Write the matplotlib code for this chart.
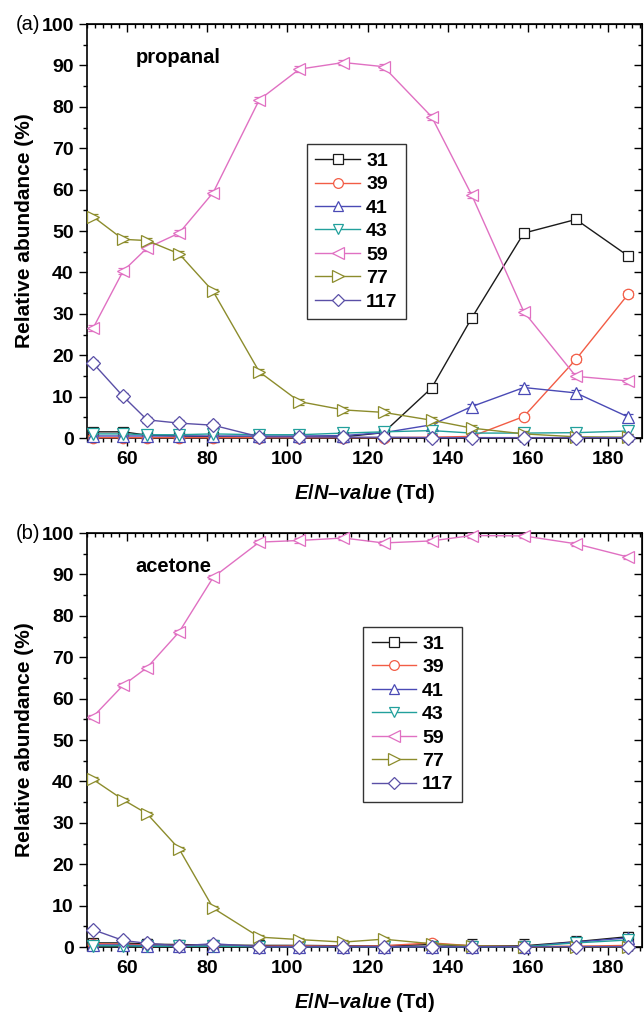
import matplotlib
matplotlib.use("Agg")
import matplotlib.pyplot as plt
from matplotlib.lines import Line2D
from matplotlib.ticker import MultipleLocator

plt.rcParams['font.family'] = ['Liberation Sans', 'DejaVu Sans']
plt.rcParams['mathtext.fontset'] = 'custom'
plt.rcParams['mathtext.it'] = 'Liberation Sans:bold:italic'
plt.rcParams['mathtext.bf'] = 'Liberation Sans:bold'
plt.rcParams['mathtext.rm'] = 'Liberation Sans:bold'

# E/N values (Td)
en = [51.5, 59, 65, 73, 81.5, 93, 103, 114, 124, 136, 146, 159, 172, 185]
masses = ['31', '39', '41', '43', '59', '77', '117']

# (a) propanal
a31 = [1.5, 1.5, 0.7, 0.5, 0.3, 0.2, 0.2, 0.3, 1.3, 12.1, 29.0, 49.5, 52.8, 44.0]
a39 = [0.1, 0.1, 0.1, 0.1, 0.1, 0.1, 0.1, 0.1, 0.1, 0.2, 0.4, 5.2, 19.0, 34.7]
a41 = [0.5, 0.5, 0.5, 0.5, 0.5, 0.5, 0.5, 0.6, 1.3, 3.2, 7.6, 12.2, 10.9, 5.1]
a43 = [1.0, 1.0, 0.8, 0.8, 1.0, 0.8, 0.8, 1.2, 1.5, 1.8, 1.2, 1.2, 1.3, 1.7]
a59 = [26.5, 40.3, 45.9, 49.5, 59.3, 81.7, 89.1, 90.7, 89.7, 77.6, 58.7, 30.5, 14.9, 13.8]
a77 = [53.5, 48.0, 47.7, 44.5, 35.4, 16.0, 8.8, 6.8, 6.2, 4.3, 2.4, 1.0, 0.3, 0.2]
a117 = [18.1, 10.1, 4.4, 3.6, 3.1, 0.3, 0.3, 0.2, 0.2, 0.1, 0.1, 0.1, 0.1, 0.1]
a_err = 0.7

# (b) acetone
b31 = [1.0, 1.0, 0.7, 0.6, 0.5, 0.4, 0.4, 0.3, 0.3, 0.6, 0.3, 0.3, 1.3, 2.5]
b31_err = [0.8, 1.1, 1.3, 0.8, 0.7, 0.9, 0.8, 0.5, 0.5, 0.8, 1.6, 1.6, 1.4, 1.2]
b39 = [0.8, 0.7, 0.5, 0.4, 0.3, 0.2, 0.3, 0.2, 0.3, 1.0, 0.3, 0.1, 0.2, 0.4]
b41 = [0.5, 0.5, 0.3, 0.2, 0.3, 0.1, 0.1, 0.1, 0.1, 0.1, 0.1, 0.1, 1.2, 2.2]
b43 = [0.3, 0.3, 0.2, 0.2, 0.2, 0.1, 0.1, 0.1, 0.1, 0.1, 0.1, 0.1, 1.0, 1.7]
b59 = [55.6, 63.2, 67.5, 76.1, 89.3, 97.8, 98.2, 98.8, 97.6, 98.1, 99.4, 99.3, 97.4, 94.2]
b77 = [40.5, 35.6, 32.2, 23.7, 9.4, 2.4, 1.8, 1.2, 1.9, 0.8, 0.3, 0.1, 0.1, 0.1]
b117 = [4.2, 1.6, 0.9, 0.3, 0.8, 0.1, 0.1, 0.1, 0.1, 0.1, 0.1, 0.1, 0.1, 0.1]
b_err = 0.5

colors = ['#1a1a1a', '#f25c45', '#4a4ab5', '#22a09c', '#e070c2', '#8c8c2c', '#5a4fa6']
markers = ['s', 'o', '^', 'v', '<', '>', 'D']
msizes = [7, 7.5, 8, 8, 8.5, 8.5, 7]


def draw_panel(ax, series, errs, name, tag, leg_anchor):
    handles = []
    for i, (ys, er) in enumerate(zip(series, errs)):
        ax.errorbar(en, ys, yerr=er, color=colors[i], marker=markers[i],
                    markersize=msizes[i], markerfacecolor='white', markeredgewidth=0.9,
                    linewidth=1.0, elinewidth=0.9, capsize=3.5, capthick=1.0,
                    clip_on=False, zorder=3 + i * 0.1)
        handles.append(Line2D([], [], color=colors[i], marker=markers[i],
                              markersize=msizes[i] - 0.5, markerfacecolor='white',
                              markeredgewidth=0.9, linewidth=1.0, label=masses[i]))
    ax.set_xlim(50, 188.5)
    ax.set_ylim(0, 100)
    ax.xaxis.set_major_locator(MultipleLocator(20))
    ax.xaxis.set_minor_locator(MultipleLocator(2))
    ax.yaxis.set_major_locator(MultipleLocator(10))
    ax.yaxis.set_minor_locator(MultipleLocator(5))
    ax.tick_params(which='both', direction='out', top=False, right=False,
                   labelsize=14, width=1)
    ax.tick_params(which='major', length=6)
    ax.tick_params(which='minor', length=3)
    for lab in ax.get_xticklabels() + ax.get_yticklabels():
        lab.set_fontweight('bold')
    # inward ticks on top/right spines (no labels)
    sec_x = ax.secondary_xaxis('top')
    sec_x.xaxis.set_major_locator(MultipleLocator(20))
    sec_x.xaxis.set_minor_locator(MultipleLocator(2))
    sec_x.tick_params(which='both', direction='in', labeltop=False, width=1)
    sec_x.tick_params(which='major', length=6)
    sec_x.tick_params(which='minor', length=3)
    sec_y = ax.secondary_yaxis('right')
    sec_y.yaxis.set_major_locator(MultipleLocator(10))
    sec_y.yaxis.set_minor_locator(MultipleLocator(5))
    sec_y.tick_params(which='both', direction='in', labelright=False, width=1)
    sec_y.tick_params(which='major', length=6)
    sec_y.tick_params(which='minor', length=3)
    for sp in ax.spines.values():
        sp.set_linewidth(1.2)
    ax.set_ylabel('Relative abundance (%)', fontsize=15, fontweight='bold', labelpad=5)
    ax.set_xlabel(r'$\it{E/N}$' + '\u2013' + r'$\it{value}$' + ' (Td)',
                  fontsize=14.5, fontweight='bold', labelpad=10)
    ax.text(0.087, 0.92, name, transform=ax.transAxes, fontsize=14.5,
            fontweight='bold', ha='left', va='center')
    ax.text(-0.128, 1.0, tag, transform=ax.transAxes, fontsize=14.5,
            ha='left', va='center')
    leg = ax.legend(handles=handles, loc='upper left', bbox_to_anchor=leg_anchor,
                    prop={'weight': 'bold', 'size': 14}, fancybox=False,
                    edgecolor='#333333', framealpha=1, handlelength=2.3,
                    labelspacing=0.3, borderpad=0.42, handletextpad=0.3,
                    borderaxespad=0)
    leg.get_frame().set_linewidth(1.0)


fig = plt.figure(figsize=(6.44, 10.18), dpi=100)
ax_a = fig.add_axes([0.135, 0.5697, 0.862, 0.4067])
ax_b = fig.add_axes([0.135, 0.0697, 0.862, 0.4067])

draw_panel(ax_a, [a31, a39, a41, a43, a59, a77, a117], [a_err] * 7,
           'propanal', '(a)', (0.397, 0.71))
draw_panel(ax_b, [b31, b39, b41, b43, b59, b77, b117],
           [b31_err] + [b_err] * 6, 'acetone', '(b)', (0.498, 0.773))

fig.savefig('out.png', dpi=100)
